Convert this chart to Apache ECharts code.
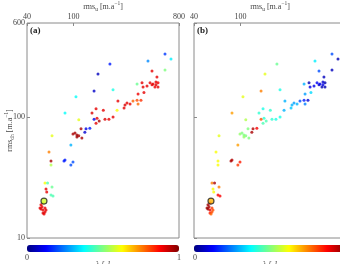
<!DOCTYPE html>
<html lang="en">
<head>
<meta charset="utf-8">
<title>rms scatter</title>
<style>
  html, body { margin: 0; padding: 0; background: #fff; }
  #main { width: 340px; height: 264px; }
</style>
</head>
<body>
<div id="main"></div>
<script src="https://cdn.jsdelivr.net/npm/echarts@6/dist/echarts.min.js"></script>
<script>
// rms_u, rms_dh [m/a] and the coloured quantity for panel (a) and (b)
var rmsU = [607, 683, 205, 434, 607, 162, 470, 518, 508, 529, 508, 470, 498, 479, 452, 529, 426, 350, 386, 394,
  150, 218, 105, 357, 401, 240, 323, 350, 378, 357, 276, 287, 305, 236, 271, 144, 156, 180, 84.6, 159,
  186, 201, 218, 150, 166, 111, 116, 99, 107, 111, 107, 103, 118, 125, 128, 138, 156, 65.5, 95, 61.7,
  64.2, 64.2, 82.9, 84.6, 99, 95, 57, 60, 65.5, 58.2, 59, 64.2, 66.8, 55, 52.7, 53.8, 52.7, 54.8, 57, 54.8,
  56, 51.7, 57, 58.2];
var rmsDh = [332, 302, 275, 291, 245, 227, 241, 215, 195, 192, 185, 185, 177, 188, 192, 177, 181, 188, 192, 177,
  164, 168, 147, 155, 160, 136, 136, 138, 138, 128, 126, 131, 128, 114, 119, 108, 117, 114, 108, 98,
  96, 96, 100, 96, 93, 95, 80, 72.5, 71, 70, 68.5, 74, 67, 75, 80, 81, 89, 70, 58.8, 51.4,
  43.3, 40.2, 43.3, 44.2, 42.5, 40.2, 28.5, 28.5, 26.4, 25.4, 24, 22.7, 22.3, 19.5, 18.8, 18.1, 17.4, 17.05, 16.4, 16.1,
  15.8, 17.7, 17.7, 17.05];
var valA = [0.18, 0.36, 0.15, 0.26, 0.5, 0.06, 0.9, 0.9, 0.9, 0.89, 0.91, 0.9, 0.89, 0.9, 0.9, 0.9, 0.9, 0.48, 0.9, 0.9,
  0.07, 0.4, 0.38, 0.89, 0.9, 0.9, 0.78, 0.8, 0.83, 0.77, 0.91, 0.9, 0.9, 0.62, 0.9, 0.91, 0.9, 0.9, 0.38, 0.9,
  0.91, 0.9, 0.9, 0.1, 0.96, 0.6, 0.96, 0.96, 0.97, 0.96, 0.97, 0.96, 0.96, 0.08, 0.1, 0.15, 0.9, 0.6, 0.3, 0.75,
  0.96, 0.55, 0.15, 0.15, 0.2, 0.2, 0.62, 0.45, 0.48, 0.9, 0.9, 0.45, 0.45, 0.62, 0.9, 0.9, 0.91, 0.9, 0.9, 0.91,
  0.9, 0.9, 0.89, 0.9];
var valB = [0.2, 0.05, 0.48, 0.36, 0.06, 0.6, 0.2, 0.06, 0.08, 0.05, 0.1, 0.08, 0.05, 0.1, 0.12, 0.05, 0.1, 0.3, 0.05, 0.1,
  0.75, 0.4, 0.6, 0.28, 0.34, 0.3, 0.2, 0.15, 0.08, 0.25, 0.3, 0.28, 0.3, 0.3, 0.32, 0.42, 0.4, 0.42, 0.72, 0.42,
  0.42, 0.4, 0.4, 0.8, 0.45, 0.55, 0.5, 0.52, 0.5, 0.5, 0.52, 0.5, 0.5, 0.96, 0.95, 0.88, 0.45, 0.6, 0.72, 0.62,
  0.62, 0.62, 0.96, 0.95, 0.85, 0.82, 0.75, 0.96, 0.75, 0.62, 0.62, 0.88, 0.88, 0.85, 0.97, 0.96, 0.97, 0.9, 0.8, 0.85,
  0.78, 0.97, 0.82, 0.8];
// highlighted (circled) sample
var markU = [55.9];
var markDh = [20.2];
var markA = [0.58];
var markB = [0.7];

var xTicks = [40, 100, 800];
var yTicks = [10, 100, 600];

var FONT = 'Liberation Serif';
var jet = ['#000080', '#0000ff', '#0080ff', '#00ffff', '#80ff80', '#ffff00', '#ff8000', '#ff0000', '#800000'];

function pts(u, dh, v) {
    var out = [];
    for (var i = 0; i < u.length; i++) out.push([u[i], dh[i], v[i]]);
    return out;
}

var rich = {
    t: { fontFamily: FONT, fontSize: 8, color: '#444', lineHeight: 12 },
    s: { fontFamily: FONT, fontSize: 5.5, color: '#444', lineHeight: 6, verticalAlign: 'bottom' },
    p: { fontFamily: FONT, fontSize: 5.5, color: '#444', lineHeight: 6, verticalAlign: 'top' }
};

var grids = [
    { left: 27, top: 23, width: 152, height: 215, outerBoundsMode: 'none', show: true,
      borderColor: '#8a8a8a', borderWidth: 1, backgroundColor: 'transparent' },
    { left: 194, top: 23, width: 152, height: 215, outerBoundsMode: 'none', show: true,
      borderColor: '#8a8a8a', borderWidth: 1, backgroundColor: 'transparent' }
];

function xAxis(i) {
    return {
        type: 'log', logBase: 10, gridIndex: i, min: xTicks[0], max: xTicks[2], position: 'top',
        name: '{t|rms}{s|u}{t| [m.a}{p|−1}{t|]}', nameLocation: 'middle', nameGap: 10,
        nameMoveOverlap: false,
        nameTextStyle: { rich: rich },
        axisLine: { show: false },
        axisTick: { inside: true, length: 3, lineStyle: { color: '#8a8a8a' } },
        splitLine: { show: false },
        axisLabel: {
            fontFamily: FONT, fontSize: 8, color: '#444', margin: 2,
            formatter: function (v) { return String(Math.round(v)); }
        }
    };
}

function yAxis(i) {
    return {
        type: 'log', logBase: 10, gridIndex: i, min: yTicks[0], max: yTicks[2],
        name: i === 0 ? '{t|rms}{s|dh}{t| [m.a}{p|−1}{t|]}' : '', nameLocation: 'middle', nameGap: 11,
        nameMoveOverlap: false,
        nameTextStyle: { rich: rich },
        axisLine: { show: false },
        axisTick: { inside: true, length: 3, lineStyle: { color: '#8a8a8a' } },
        splitLine: { show: false },
        axisLabel: {
            show: i === 0, fontFamily: FONT, fontSize: 8, color: '#444', margin: 2,
            formatter: function (v) { return String(Math.round(v)); }
        }
    };
}

function colorBar(seriesIdx, left) {
    return {
        type: 'continuous', seriesIndex: seriesIdx, dimension: 2, min: 0, max: 1,
        orient: 'horizontal', left: left, top: 245, itemWidth: 7, itemHeight: 152,
        calculable: false, text: null, showLabel: false, padding: 0,
        inRange: { color: jet }
    };
}

var option = {
    animation: false,
    backgroundColor: '#fff',
    grid: grids,
    xAxis: [xAxis(0), xAxis(1)],
    yAxis: [yAxis(0), yAxis(1)],
    visualMap: [colorBar([0, 2], 27), colorBar([1, 3], 194)],
    series: [
        { type: 'scatter', xAxisIndex: 0, yAxisIndex: 0, symbolSize: 3, data: pts(rmsU, rmsDh, valA) },
        { type: 'scatter', xAxisIndex: 1, yAxisIndex: 1, symbolSize: 3, data: pts(rmsU, rmsDh, valB) },
        { type: 'scatter', xAxisIndex: 0, yAxisIndex: 0, symbolSize: 6, z: 3,
          itemStyle: { borderColor: '#222', borderWidth: 1.2 }, data: pts(markU, markDh, markA) },
        { type: 'scatter', xAxisIndex: 1, yAxisIndex: 1, symbolSize: 6, z: 3,
          itemStyle: { borderColor: '#222', borderWidth: 1.2 }, data: pts(markU, markDh, markB) }
    ],
    graphic: [
        { type: 'text', left: 30, top: 26, style: { text: '(a)', font: 'bold 9px ' + FONT, fill: '#222' } },
        { type: 'text', left: 197, top: 26, style: { text: '(b)', font: 'bold 9px ' + FONT, fill: '#222' } },
        { type: 'text', x: 27, y: 254, style: { text: '0', font: '8px ' + FONT, fill: '#444', align: 'center' } },
        { type: 'text', x: 179, y: 254, style: { text: '1', font: '8px ' + FONT, fill: '#444', align: 'center' } },
        { type: 'text', x: 195, y: 254, style: { text: '0', font: '8px ' + FONT, fill: '#444', align: 'center' } },
        { type: 'text', x: 103, y: 261, style: { text: 'λ [-]', font: 'italic 8px ' + FONT, fill: '#444', align: 'center' } },
        { type: 'text', x: 270, y: 261, style: { text: 'λ [-]', font: 'italic 8px ' + FONT, fill: '#444', align: 'center' } }
    ]
};

var chart = echarts.init(document.getElementById('main'));
chart.setOption(option);
</script>
</body>
</html>
